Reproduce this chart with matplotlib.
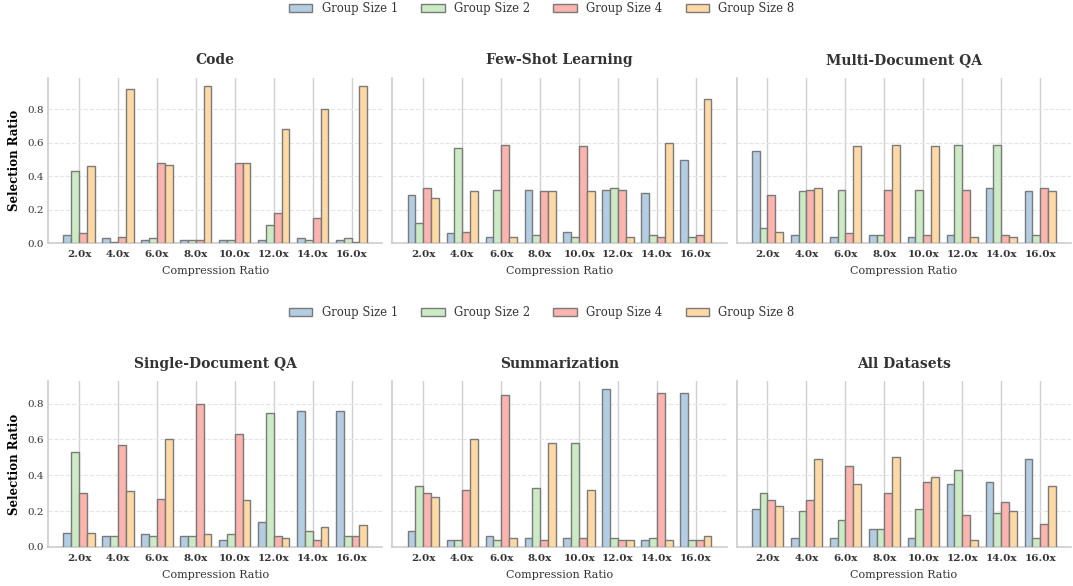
import matplotlib.pyplot as plt
import numpy as np

ratios = ['2.0x', '4.0x', '6.0x', '8.0x', '10.0x', '12.0x', '14.0x', '16.0x']
group_sizes = ['Group Size 1', 'Group Size 2', 'Group Size 4', 'Group Size 8']
colors = ['#b3cde3', '#ccebc5', '#fbb4ae', '#fed9a6']

# selection ratio per task: one row per group size, one column per compression ratio
code = [
    [0.05, 0.03, 0.02, 0.02, 0.02, 0.02, 0.03, 0.02],
    [0.43, 0.01, 0.03, 0.02, 0.02, 0.11, 0.02, 0.03],
    [0.06, 0.04, 0.48, 0.02, 0.48, 0.18, 0.15, 0.01],
    [0.46, 0.92, 0.47, 0.94, 0.48, 0.68, 0.80, 0.94],
]
few_shot = [
    [0.29, 0.06, 0.04, 0.32, 0.07, 0.32, 0.30, 0.50],
    [0.12, 0.57, 0.32, 0.05, 0.04, 0.33, 0.05, 0.04],
    [0.33, 0.07, 0.59, 0.31, 0.58, 0.32, 0.04, 0.05],
    [0.27, 0.31, 0.04, 0.31, 0.31, 0.04, 0.60, 0.86],
]
multi_doc = [
    [0.55, 0.05, 0.04, 0.05, 0.04, 0.05, 0.33, 0.31],
    [0.09, 0.31, 0.32, 0.05, 0.32, 0.59, 0.59, 0.05],
    [0.29, 0.32, 0.06, 0.32, 0.05, 0.32, 0.05, 0.33],
    [0.07, 0.33, 0.58, 0.59, 0.58, 0.04, 0.04, 0.31],
]
single_doc = [
    [0.08, 0.06, 0.07, 0.06, 0.04, 0.14, 0.76, 0.76],
    [0.53, 0.06, 0.06, 0.06, 0.07, 0.75, 0.09, 0.06],
    [0.30, 0.57, 0.27, 0.80, 0.63, 0.06, 0.04, 0.06],
    [0.08, 0.31, 0.60, 0.07, 0.26, 0.05, 0.11, 0.12],
]
summarization = [
    [0.09, 0.04, 0.06, 0.05, 0.05, 0.88, 0.04, 0.86],
    [0.34, 0.04, 0.04, 0.33, 0.58, 0.05, 0.05, 0.04],
    [0.30, 0.32, 0.85, 0.04, 0.05, 0.04, 0.86, 0.04],
    [0.28, 0.60, 0.05, 0.58, 0.32, 0.04, 0.04, 0.06],
]
all_datasets = [
    [0.21, 0.05, 0.05, 0.10, 0.05, 0.35, 0.36, 0.49],
    [0.30, 0.20, 0.15, 0.10, 0.21, 0.43, 0.19, 0.05],
    [0.26, 0.26, 0.45, 0.30, 0.36, 0.18, 0.25, 0.13],
    [0.23, 0.49, 0.35, 0.50, 0.39, 0.04, 0.20, 0.34],
]

tasks = [
    ('Code', code), ('Few-Shot Learning', few_shot), ('Multi-Document QA', multi_doc),
    ('Single-Document QA', single_doc), ('Summarization', summarization), ('All Datasets', all_datasets),
]

plt.rcParams['font.family'] = 'DejaVu Serif'
plt.rcParams['text.color'] = '#333333'

fig, axes = plt.subplots(2, 3, figsize=(10.73, 5.86), dpi=100, sharey='row')
fig.subplots_adjust(left=0.045, right=0.998, top=0.867, bottom=0.0666, wspace=0.03, hspace=0.833)

x = np.arange(len(ratios))
width = 0.2
for ax, (title, data) in zip(axes.flat, tasks):
    for i, (label, vals) in enumerate(zip(group_sizes, data)):
        ax.bar(x + (i - 1.5) * width, vals, width, color=colors[i], edgecolor='#7a7a7a',
               linewidth=1, label=label, zorder=3)
    ax.set_title(title, fontsize=10, fontweight='bold', pad=10)
    ax.set_xticks(x)
    ax.set_xticklabels(ratios, fontweight='bold')
    ax.set_xlabel('Compression Ratio', fontsize=8, color='#333333', labelpad=5)
    ax.tick_params(axis='both', length=0, colors='#333333', labelsize=7.5)
    ax.tick_params(axis='x', pad=5)
    ax.set_axisbelow(True)
    ax.grid(axis='x', color='#d0d0d0', linewidth=1, linestyle='-')
    ax.grid(axis='y', color='#e4e4e4', linewidth=0.8, linestyle='--')
    for s in ['top', 'right']:
        ax.spines[s].set_visible(False)
    for s in ['left', 'bottom']:
        ax.spines[s].set_color('#cccccc')
        ax.spines[s].set_linewidth(1.2)

for row in range(2):
    axes[row, 0].set_ylabel('Selection Ratio', fontsize=8.5, fontweight='bold')
    axes[row, 0].set_yticks([0.0, 0.2, 0.4, 0.6, 0.8])

handles, labels = axes[0, 0].get_legend_handles_labels()
fig.legend(handles, labels, loc='center', bbox_to_anchor=(0.505, 0.986), ncol=4,
           frameon=False, fontsize=8.4)
fig.legend(handles, labels, loc='center', bbox_to_anchor=(0.505, 0.466), ncol=4,
           frameon=False, fontsize=8.4)

plt.savefig('out.png', dpi=100)
